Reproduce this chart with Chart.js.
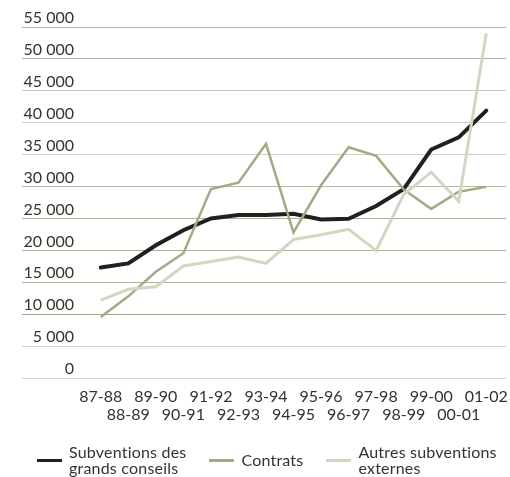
<!DOCTYPE html>
<html>
<head>
<meta charset="utf-8">
<script src="https://cdn.jsdelivr.net/npm/chart.js@4/dist/chart.umd.min.js"></script>
<style>
  html, body { margin: 0; padding: 0; background: #fff; }
  #wrap { width: 510px; height: 477px; position: relative; }
  #legend {
    position: absolute; left: 37px; top: 444px;
    display: flex; gap: 23px;
    font: 16px/16px Lato, 'Open Sans', sans-serif; color: #333; letter-spacing: 0.2px;
  }
  #legend .item { display: flex; align-items: center; }
  #legend .swatch { width: 25px; height: 3px; margin-right: 7px; flex: none; }
</style>
</head>
<body>
<div id="wrap">
  <canvas id="chart"></canvas>
  <div id="legend"></div>
</div>
<script>
// années académiques
let years = ["87-88", "88-89", "89-90", "90-91", "91-92", "92-93", "93-94", "94-95",
             "95-96", "96-97", "97-98", "98-99", "99-00", "00-01", "01-02"];

// valeurs
let subventions = [17300, 17950, 20800, 23150, 25000, 25550, 25550, 25750, 24850, 24950, 26950, 29600, 35800, 37700, 41900];
let contrats    = [9550, 12800, 16650, 19550, 29600, 30600, 36700, 22800, 30200, 36150, 34800, 29550, 26500, 29200, 29950];
let autres      = [12200, 13900, 14300, 17550, 18250, 18950, 17950, 21700, 22450, 23300, 20000, 28750, 32250, 27700, 54000];

let legendText = [["Subventions des", "grands conseils"], ["Contrats", ""], ["Autres subventions", "externes"]];

let yMax = 55000;
let yStep = 5000;

// couleur des lignes de la grille, de 0 à 55 000
let gridColors = ["#d6d7c6", "#d3d5be", "#a0a678", "#b0b58c", "#adb287", "#adb287",
                  "#b6ba98", "#cfd1b9", "#cfd1b9", "#c9cbb0", "#b0b48e", "#b3b59b"];

let fmt = v => String(v).replace(/\B(?=(\d{3})+(?!\d))/g, " ");
let txt = "#333333";
let fam = "Lato, 'Open Sans', sans-serif";

let chart = new Chart(document.getElementById("chart"), {
  type: "line",
  data: {
    labels: years,
    datasets: [
      { label: "Subventions des grands conseils", data: subventions, borderColor: "#231f20",
        borderWidth: 4, borderCapStyle: "round", pointRadius: 0, tension: 0, order: 3 },
      { label: "Contrats", data: contrats, borderColor: "#a4aa85",
        borderWidth: 2.5, pointRadius: 0, tension: 0, order: 2 },
      { label: "Autres subventions externes", data: autres, borderColor: "#d4d6c1",
        borderWidth: 3, pointRadius: 0, tension: 0, order: 1 }
    ]
  },
  options: {
    responsive: true,
    maintainAspectRatio: false,
    animation: false,
    layout: { padding: { top: 27, left: 22, right: 0, bottom: 29 } },
    plugins: {
      tooltip: { enabled: false },
      legend: { display: false }
    },
    scales: {
      x: {
        offset: true,
        border: { display: false },
        grid: { display: false },
        ticks: {
          autoSkip: false, maxRotation: 0, minRotation: 0, padding: 2,
          color: txt,
          font: { family: fam, size: 16, lineHeight: "18px" },
          callback: function (value, index) {
            let l = this.getLabelForValue(value);
            return index % 2 ? ["", l] : l;
          }
        },
        afterFit: s => { s.height = 70; }
      },
      y: {
        min: 0, max: yMax,
        border: { display: false },
        grid: { color: c => gridColors[c.index], lineWidth: 1, tickLength: 65 },
        ticks: {
          stepSize: yStep, autoSkip: false, padding: -52,
          color: txt,
          font: { family: fam, size: 16, lineHeight: "18px" },
          callback: v => [fmt(v), ""]
        },
        afterFit: s => { s.width = 65; }
      },
      y2: {
        position: "right",
        min: 0, max: yMax,
        border: { display: false },
        grid: { drawOnChartArea: false, color: c => gridColors[c.index], lineWidth: 1, tickLength: 6 },
        ticks: { stepSize: yStep, autoSkip: false, display: false },
        afterFit: s => { s.width = 6; }
      }
    }
  }
});

// légende en HTML (texte sur deux lignes)
let legend = document.getElementById("legend");
chart.data.datasets.forEach((ds, i) => {
  let item = document.createElement("div");
  item.className = "item";
  let sw = document.createElement("span");
  sw.className = "swatch";
  sw.style.background = ds.borderColor;
  let label = document.createElement("span");
  label.innerHTML = legendText[i].join("<br>");
  item.appendChild(sw);
  item.appendChild(label);
  legend.appendChild(item);
});
</script>
</body>
</html>
